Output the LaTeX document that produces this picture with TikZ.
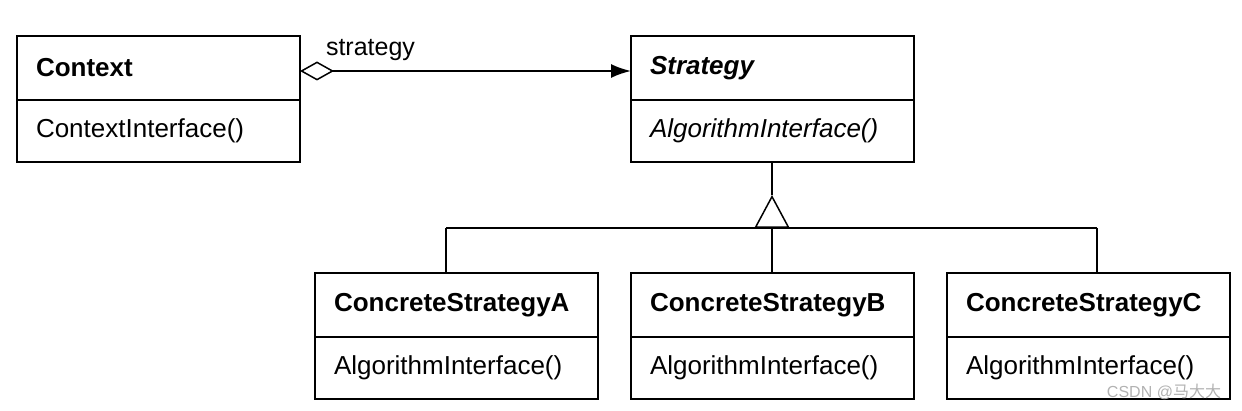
\documentclass[tikz,border=0pt]{standalone}
\usepackage{fontspec}
\setmainfont{Liberation Sans}
\newfontfamily\cjkfont{Noto Sans CJK SC}
\usetikzlibrary{arrows.meta}
\begin{document}
\begin{tikzpicture}[x=1pt,y=1pt,
  line width=2pt,
  hdr/.style={anchor=north west, minimum width=281pt, minimum height=62pt,
    text width=245pt, inner xsep=18pt, inner ysep=0pt, align=left,
    font=\fontsize{26}{30}\selectfont\bfseries},
  bdy/.style={anchor=north west, minimum width=281pt, minimum height=60pt,
    text width=245pt, inner xsep=18pt, inner ysep=0pt, align=left,
    font=\fontsize{26}{30}\selectfont},
  lbl/.style={font=\fontsize{25}{29}\selectfont, inner sep=0pt},
  classbox/.style={draw, line join=miter}
]
\useasboundingbox (0,0) rectangle (1242,410);
% Context
\node[hdr] (ctxh) at (17,374) {Context};
\node[bdy] (ctxb) at (ctxh.south west) {ContextInterface()};
% Strategy
\node[hdr, font=\fontsize{26}{30}\selectfont\bfseries\itshape] (strh) at (631,374) {Strategy};
\node[bdy, font=\fontsize{26}{30}\selectfont\itshape] (strb) at (strh.south west) {AlgorithmInterface()};
% Concrete strategies
\node[hdr] (ah) at (315,137) {ConcreteStrategyA};
\node[bdy] (ab) at (ah.south west) {AlgorithmInterface()};
\node[hdr] (bh) at (631,137) {ConcreteStrategyB};
\node[bdy] (bb) at (bh.south west) {AlgorithmInterface()};
\node[hdr] (ch) at (947,137) {ConcreteStrategyC};
\node[bdy] (cb) at (ch.south west) {AlgorithmInterface()};
% outlines and dividers
\foreach \h/\b in {ctxh/ctxb, strh/strb, ah/ab, bh/bb, ch/cb}{
  \draw[classbox] (\h.north west) rectangle (\b.south east);
  \draw (\h.south west) -- (\h.south east);
}
% aggregation
\draw[{Diamond[open,length=34pt,width=19pt,line width=1.5pt]}-{Latex[length=20pt,width=14pt]}]
  (ctxh.east |- 0,339) -- (strh.west |- 0,339);
\node[lbl, anchor=base west] (lab) at (325,354) {strategy};
% inheritance
\coordinate (apex) at (772,215);
\coordinate (busm) at (772,182);
\draw (strb.south -| apex) -- (apex);
\draw[-{Triangle[open,length=33pt,width=35pt,line width=1.5pt]}] (busm) -- (apex);
\draw (446,182) -- (1097,182);
\draw (446,182) -- (ah.north -| 446,0);
\draw (busm) -- (bh.north -| busm);
\draw (1097,182) -- (ch.north -| 1097,0);
% watermark
\node[anchor=base east, inner sep=0pt, text=gray!60, font=\fontsize{16}{18}\selectfont] (wm) at (1222,13) {CSDN @{\cjkfont 马大大}};
\end{tikzpicture}
\end{document}
